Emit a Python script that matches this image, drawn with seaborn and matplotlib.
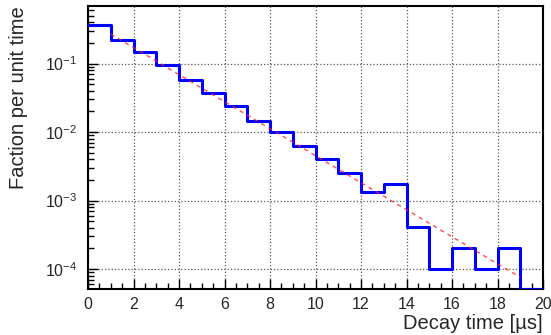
import numpy as np
import pandas as pd
import seaborn as sns
import matplotlib.pyplot as plt
from matplotlib.ticker import MultipleLocator, LogLocator, NullFormatter

# histogram of decay times, 1 us bins from 0 to 20
bin_edges = list(range(0, 21))
fraction = [0.37, 0.223, 0.15, 0.095, 0.057, 0.037, 0.0244, 0.0143, 0.0099, 0.0062,
            0.0041, 0.0025, 0.00134, 0.00177, 0.00041, 0.0001, 0.0002, 0.0001, 0.0002, 0.0]

# exponential fit drawn over 1..19 us
fit_amp = 0.426
fit_tau = 2.2
fit_range = (1.0, 19.0)

x_ticks = list(range(0, 21, 2))
y_min, y_max = 5.1e-5, 0.695

sns.set_style("white")
plt.rcParams["font.family"] = ["Liberation Sans", "DejaVu Sans"]
plt.rcParams["mathtext.fontset"] = "custom"
plt.rcParams["mathtext.rm"] = "Liberation Sans"
plt.rcParams["mathtext.it"] = "Liberation Sans:italic"
plt.rcParams["mathtext.bf"] = "Liberation Sans:bold"

fig = plt.figure(figsize=(5.51, 3.35), dpi=100)
ax = fig.add_axes([88 / 551, 1 - 289 / 335, 455 / 551, 283 / 335])

# step outline (empty bins sit on the frame bottom, like ROOT)
vals = np.clip(fraction, y_min, None)
df = pd.DataFrame({"t": bin_edges, "f": list(vals) + [vals[-1]]})
sns.lineplot(data=df, x="t", y="f", drawstyle="steps-post", color="#0000ff",
             lw=2.2, ax=ax, zorder=3)

tf = np.linspace(fit_range[0], fit_range[1], 200)
fit = pd.DataFrame({"t": tf, "f": fit_amp * np.exp(-tf / fit_tau)})
sns.lineplot(data=fit, x="t", y="f", color="#ff2020", lw=1.0, ax=ax,
             dashes=False, zorder=4, alpha=0.8)
ax.lines[-1].set_dashes([3, 3])

ax.set_yscale("log")
ax.set_xlim(0, 20)
ax.set_ylim(y_min, y_max)

ax.set_xticks(x_ticks)
ax.xaxis.set_minor_locator(MultipleLocator(0.5))
ax.yaxis.set_major_locator(LogLocator(base=10, numticks=10))
ax.yaxis.set_minor_locator(LogLocator(base=10, subs=np.arange(2, 10), numticks=10))
ax.yaxis.set_minor_formatter(NullFormatter())
ax.tick_params(which="major", direction="in", length=7, width=1, labelsize=11.5,
               bottom=True, left=True, top=False, right=False, color="black")
ax.tick_params(which="minor", direction="in", length=4, width=1,
               bottom=True, left=True, top=False, right=False, color="black")
ax.tick_params(axis="y", which="major", pad=8)
ax.tick_params(axis="x", which="major", pad=6)

ax.grid(True, which="major", linestyle=":", color="0.35", lw=0.9)
for s in ax.spines.values():
    s.set_color("black")
    s.set_linewidth(1.5)

ax.set_xlabel("Decay time [µs]", fontsize=14.5, loc="right", labelpad=1)
ax.set_ylabel("Faction per unit time", fontsize=14.5, loc="top", labelpad=12)

fig.savefig("out.png", dpi=100)
